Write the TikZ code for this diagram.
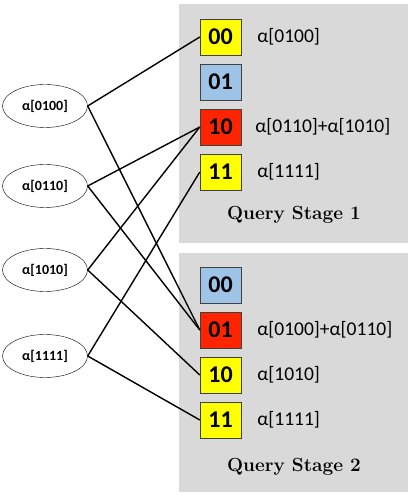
\documentclass[tikz,border=0pt]{standalone}
\usepackage{fontspec}
\newfontfamily\carlito{Carlito}
\usetikzlibrary{shapes.geometric,positioning}
\definecolor{boxgray}{HTML}{D9D9D9}
\definecolor{cellyellow}{HTML}{FFFF00}
\definecolor{cellblue}{HTML}{9DC3E6}
\definecolor{cellred}{HTML}{FF2400}
\begin{document}
\begin{tikzpicture}[x=1pt,y=1pt,node distance=45pt,
    coef/.style={ellipse, draw, thin, minimum width=85pt, minimum height=43pt, inner sep=0pt, font=\carlito\fontsize{14}{16}\selectfont\bfseries},
    cell/.style={rectangle, draw=black!75, thin, minimum width=41pt, minimum height=36pt, inner sep=0pt, font=\carlito\fontsize{24}{26}\selectfont\bfseries},
    sum/.style={anchor=west, inner sep=0pt, font=\carlito\fontsize{19.5}{22}\selectfont},
    stage/.style={font=\fontsize{19}{22}\selectfont\bfseries}]
        \useasboundingbox (0,0) rectangle (413,497);
        % Stage boxes
        \node (stage1) [fill=boxgray, minimum width=229pt, minimum height=239pt, inner sep=0pt] at (293.5,373.5) {};
        \node (stage2) [fill=boxgray, minimum width=229pt, minimum height=239pt, inner sep=0pt] at (293.5,124.5) {};
        \node [stage] at (294,282) {Query Stage 1};
        \node [stage] at (294,30) {Query Stage 2};

        % Coefficients
        \node (a0100) [coef] at (45,391) {α[0100]};
        \node (a0110) [coef] at (45,311) {α[0110]};
        \node (a1010) [coef] at (45,227) {α[1010]};
        \node (a1111) [coef] at (45,141) {α[1111]};

        % Stage 1 cells
        \node (p00) [cell, fill=cellyellow] at (220.5,460) {00};
        \node (p01) [cell, fill=cellblue, below of=p00] {01};
        \node (p10) [cell, fill=cellred, below of=p01] {10};
        \node (p11) [cell, fill=cellyellow, below of=p10] {11};

        % Stage 2 cells
        \node (q00) [cell, fill=cellblue] at (220.5,212) {00};
        \node (q01) [cell, fill=cellred, below of=q00] {01};
        \node (q10) [cell, fill=cellyellow, below of=q01] {10};
        \node (q11) [cell, fill=cellyellow, below of=q10] {11};

        % Sums
        \node [sum, right=16pt of p00] {α[0100]};
        \node [sum, right=14pt of p10] {α[0110]+α[1010]};
        \node [sum, right=16pt of p11] {α[1111]};
        \node [sum, right=16pt of q01] {α[0100]+α[0110]};
        \node [sum, right=16pt of q10] {α[1010]};
        \node [sum, right=16pt of q11] {α[1111]};

        % Lines
        \draw[line width=1.4pt] (a0100.east) -- (p00.west);
        \draw[line width=1.4pt] (a0100.east) -- (q01.west);
        \draw[line width=1.4pt] (a0110.east) -- (p10.west);
        \draw[line width=1.4pt] (a0110.east) -- (q01.west);
        \draw[line width=1.4pt] (a1010.east) -- (p10.west);
        \draw[line width=1.4pt] (a1010.east) -- (q10.west);
        \draw[line width=1.4pt] (a1111.east) -- (p11.west);
        \draw[line width=1.4pt] (a1111.east) -- (q11.west);
    \end{tikzpicture}
\end{document}
